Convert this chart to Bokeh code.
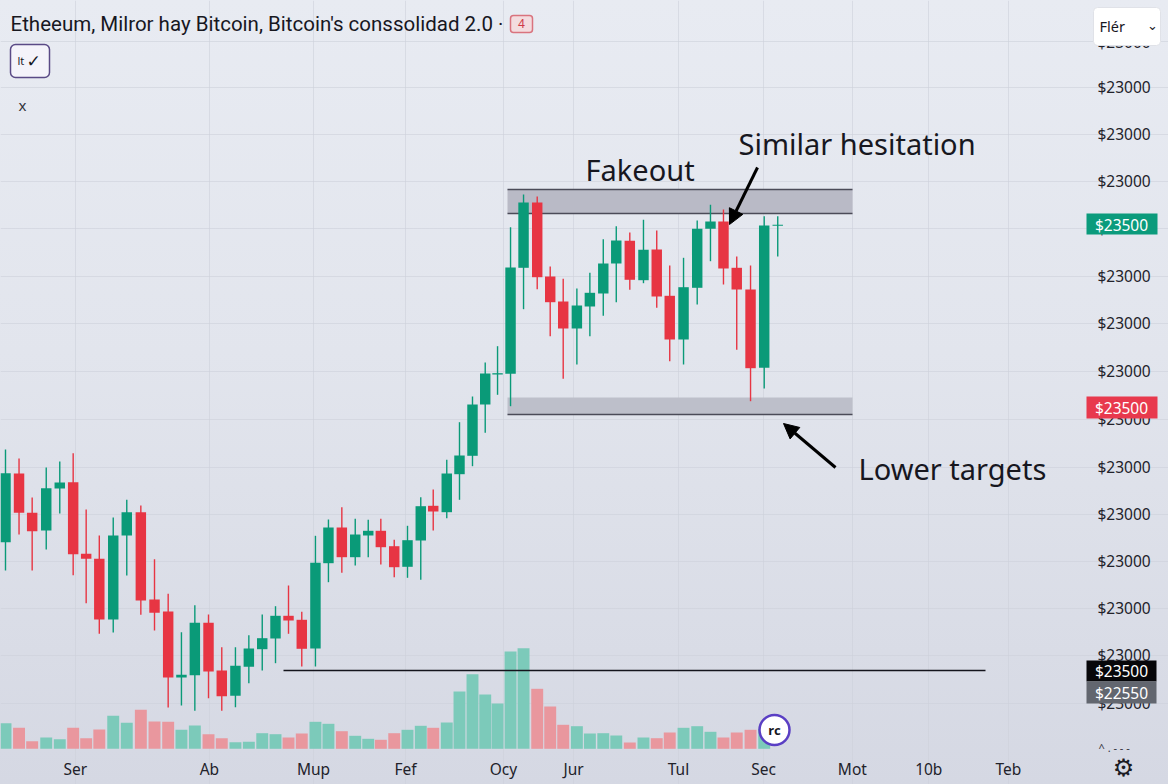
from bokeh.plotting import figure
from bokeh.embed import file_html
from bokeh.resources import INLINE
from bokeh.models import (ColumnDataSource, FixedTicker, Range1d, Label, Arrow, NormalHead, BoxAnnotation)

TITLE = "Etheeum, Milror hay Bitcoin, Bitcoin's conssolidad 2.0 ·"
x_tick_labels = ["Ser", "Ab", "Mup", "Fef", "Ocy", "Jur", "Tul", "Sec", "Mot", "10b", "Teb"]
x_tick_pos = [5.22, 15.22, 22.99, 29.85, 37.16, 42.39, 50.22, 56.57, 63.2, 68.9, 74.85]
y_tick_pos = [743, 697.5, 650.5, 603.5, 556.5, 508.5, 461.5, 413.5, 365.5, 317.5, 270.5, 223.5, 176.5, 129.5, 81.5]
y_tick_text = "$23000"

sessions = [0, 1.01, 1.99, 3.04, 4.05, 5.05, 6.02, 7.0, 8.04, 9.05, 10.1, 11.12, 12.14, 13.13, 14.13,
            15.15, 16.14, 17.16, 18.16, 19.16, 20.15, 21.12, 22.11, 23.13, 24.1, 25.1, 26.1, 27.07, 28.01,
            29.01, 30.0, 30.99, 31.92, 32.93, 33.88, 34.85, 35.8, 36.72, 37.69, 38.66, 39.68, 40.65, 41.62,
            42.64, 43.61, 44.61, 45.58, 46.59, 47.61, 48.6, 49.57, 50.6, 51.62, 52.61, 53.58, 54.57, 55.6,
            56.62, 57.63]
opens = [242.3, 311, 271.7, 254, 296, 302.3, 230.7, 225.7, 165, 249, 272.3, 185, 173, 107, 109.3, 161.7, 114,
         88.7, 117.7, 135.3, 146, 168.7, 164.7, 136, 221.3, 257, 227.3, 249, 253.7, 238.3, 217.7, 244, 278.7,
         272.3, 310.3, 328.7, 380, 410, 410.7, 516.7, 582, 508, 483, 456, 478, 491, 521, 543.7, 504.3, 535,
         488.7, 445, 496.7, 555.7, 563, 516.7, 495, 416.7, 558.7]
closes = [311.3, 271.7, 253.3, 296.3, 302, 230.3, 225.7, 165, 249, 272.3, 184, 171.7, 107, 109.7, 161.7, 113,
          88.3, 118.7, 136, 146.3, 168.7, 164, 135.7, 221.7, 257, 227.3, 250, 253.7, 237.3, 217.3, 244.3, 278.3,
          273, 311, 329, 380, 411, 411.3, 517, 582, 507.3, 482.3, 456, 479, 491.7, 521, 544, 504.7, 534.7, 488,
          445, 497.3, 555.7, 563, 516, 495, 416.3, 559, 559.7]
highs = [335, 326, 287, 317, 323, 331.3, 275, 249, 267, 284.7, 279, 225.3, 190.7, 152.3, 179.3, 170, 137.3,
         137.3, 149.3, 170, 178.3, 199, 172.7, 248.7, 265, 277.3, 265.7, 264.7, 265.7, 244.7, 258.7, 287.3, 295,
         324.7, 362.3, 388, 422, 438.3, 557.3, 590, 588, 518, 505.7, 496, 511.7, 545.3, 558.3, 552, 564.7, 554,
         519, 526.7, 564, 579.7, 575, 528, 519, 568.3, 568.3]
lows = [214, 250, 214, 235, 271, 209.3, 181.3, 150.7, 152, 209, 169.7, 154, 77, 79, 73.7, 86.3, 73.7,
        77.3, 101.3, 114, 121.3, 150.7, 118, 118, 202.3, 211.7, 219, 227.3, 220, 207.3, 206.7, 204.7, 254,
        266.3, 284.7, 318.3, 351.7, 389.7, 378.3, 475.3, 495.3, 448.3, 405.7, 420, 448.3, 468.7, 482.3, 494.7,
        501.3, 476.7, 423.3, 420, 480, 523.3, 500, 434.7, 383.3, 396, 528]
volumes = [25.6, 21, 7.6, 11.3, 9.6, 21, 10.6, 19.3, 33, 26, 39, 27.3, 27, 19, 23.3, 14.6, 10.6, 6.6, 7, 15.6,
           14.6, 11.3, 15.3, 27, 25, 17.6, 13, 10, 9, 15.6, 19, 23, 21, 26.3, 57.3, 74.6, 54.3, 45.3, 97.3,
           100.6, 60, 42.3, 24, 22.6, 15.3, 15.6, 13.3, 6.3, 11.3, 10.6, 16.3, 21, 22.6, 17, 11.3, 16.3, 19, 20]

GREEN, RED = "#0a9a78", "#e73543"
VGREEN, VRED = "#7ccaba", "#e9979e"
INK = "#17171f"
FONT = "Noto Sans"

X = lambda px: (px - 5) / 13.4
Y = lambda py: 784 - py

p = figure(width=1168, height=784, frame_width=1168, frame_height=784,
           x_range=Range1d(X(0), X(1168)), y_range=Range1d(Y(784), Y(0)),
           output_backend="svg", toolbar_location=None, y_axis_location="right",
           min_border=0, background_fill_alpha=0, border_fill_alpha=0, outline_line_color=None)
p.styles = {"background": "linear-gradient(180deg,#e8ebf2 0%,#e2e5ed 45%,#d5d8e3 100%)"}
p.extra_y_ranges = {"vol": Range1d(-35.7, 748.3)}

# axes, pinned inside the frame
p.xaxis.fixed_location = Y(750)
p.yaxis.fixed_location = X(1085)
p.xaxis.ticker = FixedTicker(ticks=x_tick_pos)
p.xaxis.major_label_overrides = {t: s for t, s in zip(x_tick_pos, x_tick_labels)}
p.yaxis.ticker = FixedTicker(ticks=y_tick_pos)
p.yaxis.major_label_overrides = {t: y_tick_text for t in y_tick_pos}
for ax in (p.xaxis[0], p.yaxis[0]):
    ax.axis_line_color = None
    ax.major_tick_line_color = None
    ax.minor_tick_line_color = None
    ax.major_label_text_font = FONT
    ax.major_label_text_font_size = "15.5px"
    ax.major_label_text_color = "#22222a"
p.yaxis.major_label_standoff = 6
p.xaxis.major_label_standoff = 1
p.xgrid.bounds = (Y(750), Y(0))
p.ygrid.bounds = (X(0), X(1083))
p.grid.grid_line_color = "#cdd1db"
p.grid.grid_line_width = 1
p.grid.grid_line_alpha = 0.6

# volume
is_up = [c >= o for o, c in zip(opens, closes)]
vsrc = ColumnDataSource(dict(x=sessions[:len(volumes)], top=volumes, bottom=[0] * len(volumes),
                             color=[VGREEN if u else VRED for u in is_up[:len(volumes)]]))
p.vbar(x="x", top="top", bottom="bottom", width=0.89, fill_color="color", line_color=None,
       y_range_name="vol", source=vsrc)

# zones
p.quad(left=X(507), right=X(852), top=Y(189), bottom=Y(213), fill_color="#b9bac6", line_color=None)
p.quad(left=X(507), right=X(852), top=Y(397), bottom=Y(414), fill_color="#bdbfca", line_color=None)
for py in (189, 213, 414):
    p.segment(x0=X(507), x1=X(852), y0=Y(py), y1=Y(py), line_color="#4b4b58", line_width=1.5)

# candles
src = ColumnDataSource(dict(x=sessions, o=opens, c=closes, h=highs, l=lows,
                            color=[GREEN if u else RED for u in is_up]))
p.segment(x0="x", x1="x", y0="l", y1="h", line_color="color", line_width=1.4, source=src)
p.vbar(x="x", top="o", bottom="c", width=0.78, fill_color="color", line_color=None, source=src)

# support line
p.segment(x0=X(283), x1=X(985), y0=Y(670), y1=Y(670), line_color="#14141c", line_width=1.6)

# arrows
for a, b, c, d in ((757, 167, 729, 224), (835, 467, 783, 423)):
    p.add_layout(Arrow(end=NormalHead(size=15, fill_color="#000000", line_color="#000000"),
                       x_start=X(a), y_start=Y(b), x_end=X(c), y_end=Y(d),
                       line_color="#000000", line_width=3))


def text(px, py, s, size, color=INK, align="left", font=FONT, weight="normal"):
    lab = Label(x=px, y=784 - py, x_units="screen", y_units="screen", text=s, text_font=font,
                text_font_size=f"{size}px", text_color=color, text_align=align, text_baseline="middle",
                text_font_style=weight)
    p.add_layout(lab)
    return lab


def box(l, t, r, b, fill, line=None, width=1, radius=0):
    bx = BoxAnnotation(left=l, right=r, top=784 - t, bottom=784 - b, left_units="screen", right_units="screen",
                       top_units="screen", bottom_units="screen", fill_color=fill, fill_alpha=1,
                       line_color=line, line_width=width, line_alpha=1 if line else 0,
                       border_radius=radius)
    p.add_layout(bx)
    return bx


# callouts
text(585, 169, "Fakeout", 29)
text(738, 143, "Similar hesitation", 29)
text(858, 468, "Lower targets", 29)

# title and toolbar bits
text(10, 23, TITLE, 20.5, font="Roboto")
box(510, 15, 532, 32, "#f3dcdf", "#d9737e", 1.5, 3)
box(10, 44, 49, 77, "#f4f3fa", "#5a4a86", 1.5, 5)
box(1086, 213, 1157, 234, "#0b9b7c")
box(1086, 396, 1157, 418, "#e8394d")
box(1086, 660, 1156, 681, "#07070a")
box(1086, 681, 1156, 703, "#62666f")
box(1093, 7, 1160, 45, "#ffffff", "#e0e2e8", 1, 4)

text(521, 23, "4", 12, "#d03a48", "center")
text(17, 60, "lt", 11, INK)
text(26, 60, "✓", 17, INK, font="DejaVu Sans", weight="bold")
text(22, 104, "x", 15, "#33333c", "center")
text(1121, 224, "$23500", 15.5, "#ffffff", "center")
text(1121, 407, "$23500", 15.5, "#ffffff", "center")
text(1121, 670, "$23500", 15.5, "#ffffff", "center")
text(1121, 692, "$22550", 15.5, "#ffffff", "center")
text(1099, 25, "Flér", 14.5, INK)
text(1152, 25, "⌄", 13, INK, "center", font="DejaVu Sans")
text(1098, 747, "^ . - - -", 11, "#33333c")

# marker + gear
p.circle(x=[X(774)], y=[Y(729.5)], radius=15, radius_units="screen", fill_color="#ffffff",
         line_color="#5a3fc4", line_width=2.5)
text(774, 729.5, "rc", 13, INK, "center", weight="bold")
text(1123, 767, "⚙", 24, "#1c1c24", "center", font="DejaVu Sans")

open("out.html", "w").write(file_html(p, INLINE))
